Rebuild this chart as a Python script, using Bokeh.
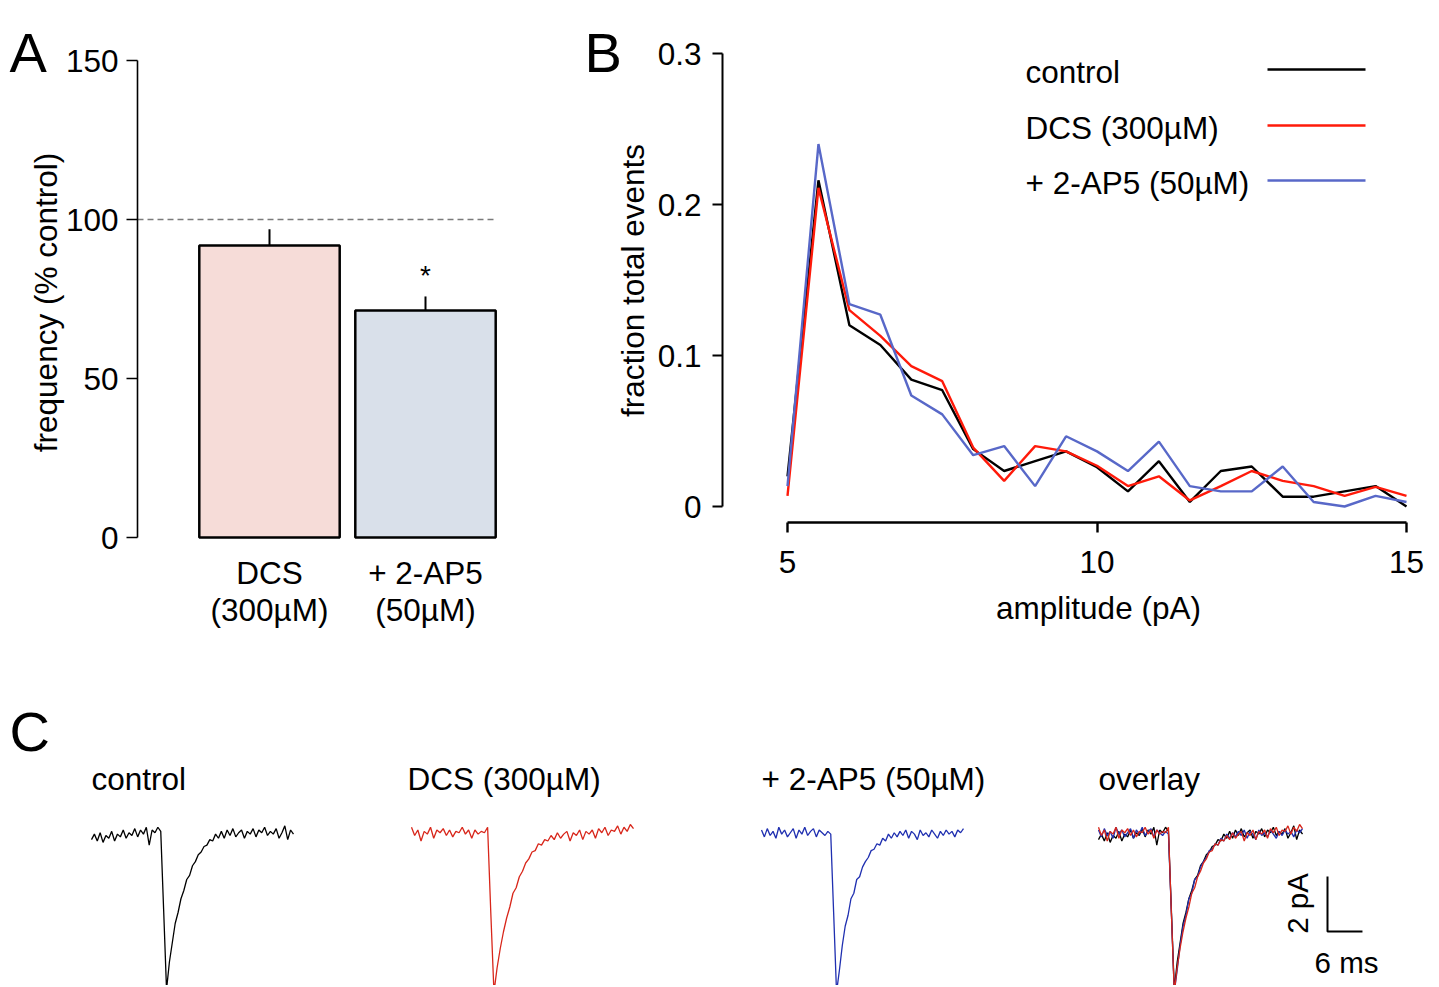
import math
from bokeh.plotting import figure
from bokeh.models import Range1d, FixedTicker, LinearAxis, Label, Grid
from bokeh.layouts import row, column
from bokeh.embed import file_html
from bokeh.resources import INLINE

FONT = "Liberation Sans"
TXT = "31.5px"

# ---------------- Panel A data ----------------
bar_pos = [1, 2]
cond_line1 = ["DCS", "+ 2-AP5"]
cond_line2 = ["(300µM)", "(50µM)"]
freq_mean = [91.8, 71.4]
freq_sem = [5.1, 4.4]
bar_colors = ["#f6dcd8", "#d9e0ea"]
control_level = 100
freq_ticks = [0, 50, 100, 150]

# ---------------- Panel B data ----------------
amplitude = [5.0, 5.5, 6.0, 6.5, 7.0, 7.5, 8.0, 8.5, 9.0, 9.5, 10.0,
             10.5, 11.0, 11.5, 12.0, 12.5, 13.0, 13.5, 14.0, 14.5, 15.0]
frac_control = [0.020, 0.216, 0.120, 0.107, 0.084, 0.077, 0.038, 0.0235, 0.030, 0.0365, 0.026,
                0.010, 0.030, 0.003, 0.0235, 0.0265, 0.0065, 0.0065, 0.010, 0.0135, 0.0]
frac_dcs = [0.007, 0.211, 0.130, 0.113, 0.093, 0.083, 0.039, 0.017, 0.040, 0.0365, 0.027,
            0.0135, 0.020, 0.004, 0.0135, 0.0235, 0.017, 0.0135, 0.007, 0.013, 0.007]
frac_ap5 = [0.0135, 0.240, 0.134, 0.127, 0.0735, 0.061, 0.034, 0.040, 0.0135, 0.0465, 0.0365,
            0.0235, 0.043, 0.0135, 0.010, 0.010, 0.0265, 0.003, 0.0, 0.007, 0.003]
series_names = ["control", "DCS (300µM)", "+ 2-AP5 (50µM)"]
series_colors_b = ["#000000", "#ff1a0a", "#5868c8"]
amp_ticks = [5, 10, 15]
frac_ticks = [0, 0.1, 0.2, 0.3]

# ---------------- Panel C data (pA, sampled every 0.5 ms) ----------------
time_ms = [i * 0.5 for i in range(71)]
trace_control = [
    -0.15, 0.05, -0.2, 0.1, -0.25, 0.0, -0.1, 0.15, -0.2, 0.05, -0.05, 0.2, -0.1,
    0.1, 0.0, 0.25, -0.05, 0.2, 0.05, 0.3, -0.35, 0.2, 0.1, 0.3, 0.15,
    -2.7, -5.6,
    -4.6, -3.9, -3.2, -2.8, -2.3, -2.0, -1.6, -1.45, -1.1, -0.95, -0.7, -0.6, -0.4,
    -0.35, -0.15, -0.2, 0.05, -0.1,
    0.15, -0.1, 0.2, 0.0, 0.25, -0.05, 0.1, 0.2, -0.1, 0.15, 0.05, 0.25, -0.05,
    0.2, 0.1, 0.3, 0.0, 0.15, 0.05, 0.25, -0.1, 0.1, 0.35, -0.15, 0.2, 0.05]
trace_dcs = [
    0.3, 0.0, 0.2, -0.2, 0.15, 0.05, 0.3, -0.1, 0.2, 0.1, 0.25, 0.0, 0.2,
    -0.05, 0.15, 0.1, 0.3, 0.05, 0.2, -0.1, 0.2, 0.05, 0.15, 0.1, 0.3,
    -2.8, -5.7,
    -4.8, -4.1, -3.5, -3.0, -2.6, -2.1, -1.9, -1.5, -1.3, -1.0, -0.85, -0.6, -0.55,
    -0.3, -0.35, -0.15, -0.2, 0.0,
    -0.15, 0.1, -0.1, 0.05, 0.15, -0.2, 0.1, 0.0, 0.2, -0.15, 0.15, 0.05, 0.2,
    -0.1, 0.25, 0.1, 0.3, 0.0, 0.2, 0.15, 0.35, 0.05, 0.3, 0.15, 0.4, 0.25]
trace_ap5 = [
    0.2, -0.05, 0.25, 0.0, 0.15, -0.1, 0.3, 0.05, 0.2, -0.05, 0.1, 0.25, -0.1,
    0.2, 0.05, 0.3, 0.0, 0.15, 0.25, -0.05, 0.2, 0.1, 0.0, 0.15, 0.05,
    -2.8, -5.7,
    -4.9, -4.0, -3.3, -2.9, -2.3, -2.1, -1.6, -1.5, -1.15, -0.95, -0.8, -0.55, -0.5,
    -0.3, -0.35, -0.1, -0.2, 0.05,
    -0.1, 0.1, -0.05, 0.15, 0.0, 0.2, -0.1, 0.15, 0.05, -0.15, 0.2, 0.0, 0.1,
    -0.05, 0.2, 0.05, -0.1, 0.15, 0.0, 0.2, 0.05, 0.15, -0.05, 0.2, 0.1, 0.25]
trace_colors = ["#000000", "#d8261a", "#1f2fb0"]
trace_titles = ["control", "DCS (300µM)", "+ 2-AP5 (50µM)", "overlay"]
scale_ms = 6
scale_pA = 2


# ---------------- layout geometry (canvas pixels) ----------------
class Geo:
    """Maps page pixels to data units for a figure whose frame fills its canvas."""

    def __init__(self, left, top, width, height, px_ref, x_ref, ppu_x, py_ref, y_ref, ppu_y):
        self.left, self.top, self.width, self.height = left, top, width, height
        self.px_ref, self.x_ref, self.ppu_x = px_ref, x_ref, ppu_x
        self.py_ref, self.y_ref, self.ppu_y = py_ref, y_ref, ppu_y

    def x(self, px):
        return self.x_ref + (px - self.px_ref) / self.ppu_x

    def y(self, py):
        return self.y_ref + (self.py_ref - py) / self.ppu_y

    def xr(self):
        return Range1d(self.x(self.left), self.x(self.left + self.width))

    def yr(self):
        return Range1d(self.y(self.top + self.height), self.y(self.top))


H_TOP, H_BOT = 668, 317
gA = Geo(0, 0, 570, H_TOP, 269, 1, 156, 537, 0, 3.18)
gB = Geo(570, 0, 866, H_TOP, 787, 5, 61.9, 506, 0, 1510)
gC = [Geo(0, H_TOP, 380, H_BOT, 91, 0, 5.771, 835, 0, 27.5),
      Geo(380, H_TOP, 350, H_BOT, 411, 0, 6.343, 835, 0, 27.5),
      Geo(730, H_TOP, 340, H_BOT, 761, 0, 5.771, 835, 0, 27.5),
      Geo(1070, H_TOP, 366, H_BOT, 1098, 0, 5.829, 835, 0, 27.5)]


def make_fig(g):
    p = figure(width=g.width, height=g.height, output_backend="svg", toolbar_location=None,
               x_range=g.xr(), y_range=g.yr(), x_axis_location=None, y_axis_location=None,
               min_border=0)
    for r in list(p.center):
        if isinstance(r, Grid):
            r.visible = False
    p.outline_line_color = None
    p.background_fill_color = "white"
    p.border_fill_color = "white"
    return p


def text(p, g, px, py, s, size=TXT, align="left", baseline="middle", angle=0.0):
    p.add_layout(Label(x=g.x(px), y=g.y(py), text=s, text_font=FONT, text_font_size=size,
                       text_align=align, text_baseline=baseline, angle=angle,
                       text_color="black"))


def style_axis(ax, lw, tick_out, standoff):
    ax.major_label_text_font = FONT
    ax.major_label_text_font_size = TXT
    ax.major_label_text_color = "black"
    ax.major_label_standoff = standoff
    ax.major_tick_out = tick_out
    ax.major_tick_in = 0
    ax.minor_tick_line_color = None
    ax.axis_line_width = lw
    ax.major_tick_line_width = lw
    ax.axis_line_color = "black"
    ax.major_tick_line_color = "black"


# ================= Panel A =================
pA = make_fig(gA)
bar_width = 0.9
pA.vbar(x=bar_pos, top=freq_mean, bottom=0, width=bar_width, fill_color=bar_colors,
        line_color="black", line_width=2.5)
err_top = [m + s for m, s in zip(freq_mean, freq_sem)]
pA.segment(x0=bar_pos, y0=freq_mean, x1=bar_pos, y1=err_top, line_color="black", line_width=2)

yaxis_x_A = gA.x(137)
pA.segment(x0=[yaxis_x_A], y0=[control_level], x1=[bar_pos[-1] + bar_width / 2],
           y1=[control_level], line_color="#7a7a7a", line_dash="6 4", line_width=1.6)
pA.add_layout(Label(x=bar_pos[1], y=err_top[1] + 6.5, text="*", text_font=FONT,
                    text_font_size="28px", text_align="center", text_baseline="middle",
                    text_color="black"))

ya = LinearAxis(fixed_location=yaxis_x_A, ticker=FixedTicker(ticks=freq_ticks), bounds=(0, 150))
style_axis(ya, 1.6, 11, 8)
pA.add_layout(ya, "left")

for labels, standoff in ((cond_line1, 17), (cond_line2, 54)):
    ax = LinearAxis(fixed_location=0, ticker=FixedTicker(ticks=bar_pos),
                    major_label_overrides={b: t for b, t in zip(bar_pos, labels)})
    style_axis(ax, 1, 0, standoff)
    ax.axis_line_color = None
    ax.major_tick_line_color = None
    pA.add_layout(ax, "below")

text(pA, gA, 45, 302, "frequency (% control)", align="center", angle=math.pi / 2)
text(pA, gA, 9, 52, "A", size="56px", baseline="alphabetic")

# ================= Panel B =================
pB = make_fig(gB)
for ys, col in zip([frac_control, frac_dcs, frac_ap5], series_colors_b):
    pB.line(amplitude, ys, line_color=col, line_width=2.4)

xb = LinearAxis(fixed_location=gB.y(522), ticker=FixedTicker(ticks=amp_ticks), bounds=(5, 15))
style_axis(xb, 2.4, 10, 18)
pB.add_layout(xb, "below")

yb = LinearAxis(fixed_location=gB.x(722), ticker=FixedTicker(ticks=frac_ticks), bounds=(0, 0.3),
                major_label_overrides={0: "0", 0.1: "0.1", 0.2: "0.2", 0.3: "0.3"})
style_axis(yb, 2, 10, 11)
pB.add_layout(yb, "left")

text(pB, gB, 632, 280, "fraction total events", align="center", angle=math.pi / 2)
text(pB, gB, 1098, 607, "amplitude (pA)", align="center")
text(pB, gB, 584, 52, "B", size="56px", baseline="alphabetic")

# legend: label on the left, line sample on the right
legend_text_px = 1025
legend_line_px = (1267, 1365)
legend_rows_py = [71, 127, 182]
for name, col, py in zip(series_names, series_colors_b, legend_rows_py):
    text(pB, gB, legend_text_px, py, name)
    pB.segment(x0=[gB.x(legend_line_px[0])], y0=[gB.y(py - 2)], x1=[gB.x(legend_line_px[1])],
               y1=[gB.y(py - 2)], line_color=col, line_width=2.4)

# ================= Panel C =================
panel_series = [
    [(trace_control, trace_colors[0])],
    [(trace_dcs, trace_colors[1])],
    [(trace_ap5, trace_colors[2])],
    [(trace_control, trace_colors[0]), (trace_ap5, trace_colors[2]), (trace_dcs, trace_colors[1])],
]
title_px = [91, 407, 761, 1098]
c_figs = []
for g, series, title, tpx in zip(gC, panel_series, trace_titles, title_px):
    p = make_fig(g)
    for ys, col in series:
        p.line(time_ms, ys, line_color=col, line_width=1.3)
    text(p, g, tpx, 778, title, baseline="alphabetic")
    c_figs.append(p)

text(c_figs[0], gC[0], 9, 731, "C", size="56px", baseline="alphabetic")

# scale bar (overlay panel)
g4, c4 = gC[3], c_figs[3]
sb_t = g4.x(1327)
sb_y = g4.y(931)
c4.line([sb_t, sb_t, sb_t + scale_ms], [sb_y + scale_pA, sb_y, sb_y],
        line_color="black", line_width=2)
text(c4, g4, 1297, 903, f"{scale_pA} pA", size="29.5px", align="center", angle=math.pi / 2)
text(c4, g4, 1346, 962, f"{scale_ms} ms", size="29.5px", align="center")

layout = column(row(pA, pB), row(*c_figs))
open("out.html", "w").write(file_html(layout, INLINE))
